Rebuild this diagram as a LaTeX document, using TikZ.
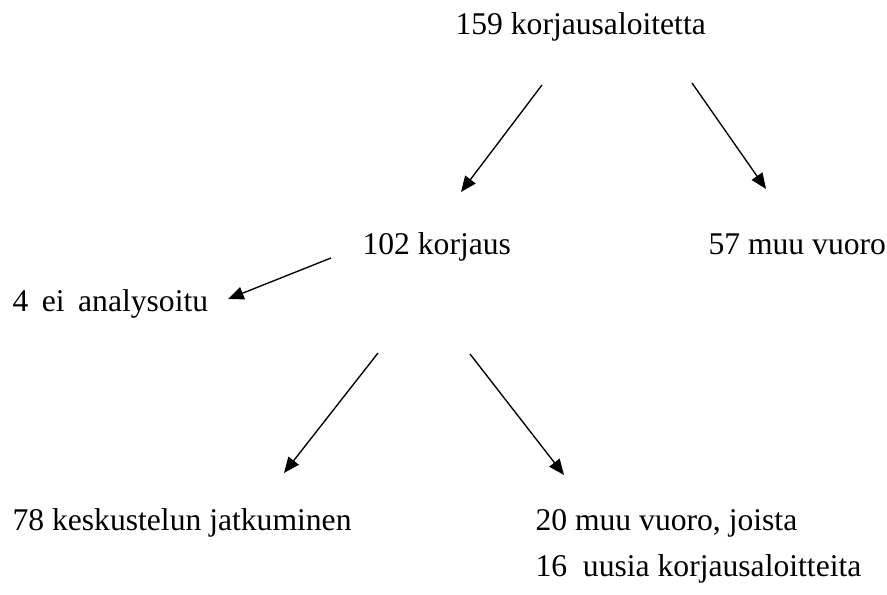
\documentclass[tikz,border=0pt]{standalone}
\usepackage{fontspec}
\setmainfont{Liberation Serif}
\usetikzlibrary{arrows.meta}
\begin{document}
\begin{tikzpicture}[x=0.37pt,y=-0.37pt]
% Tyylit
\tikzset{count label/.style={anchor=base west,inner sep=0pt,font=\fontsize{11.7}{14}\selectfont},
  flow arrow/.style={-{Triangle[length=5.8pt,width=4.8pt]},line width=.5pt}}
\useasboundingbox (0,0) rectangle (887,595);

  \node[count label] (aloite) at (455,35) {159 korjausaloitetta};
  \node[count label] (korjaus) at (362,255) {102 korjaus};
  \node[count label] (muu) at (708,255) {57 muu vuoro};
  \node[count label] (eian) at (12,312) {4\hspace{5pt}ei\hspace{5pt}analysoitu};
  \node[count label] (jatko) at (12,531) {78 keskustelun jatkuminen};
  \node[count label] (muu2) at (535,531) {20 muu vuoro, joista};
  \node[count label] (uusia) at (535,577) {16\ \ uusia korjausaloitteita};

% Nuolten päät
  \coordinate (a1) at (542,85); \coordinate (b1) at (461,192);
  \coordinate (a2) at (692,83); \coordinate (b2) at (766,189);
  \coordinate (a3) at (331,258); \coordinate (b3) at (228,299);
  \coordinate (a4) at (378,353); \coordinate (b4) at (284,473);
  \coordinate (a5) at (470,354); \coordinate (b5) at (564,475);

\draw[flow arrow] (a1) -- (b1);
\draw[flow arrow] (a2) -- (b2);
\draw[flow arrow] (a3) -- (b3);
\draw[flow arrow] (a4) -- (b4);
\draw[flow arrow] (a5) -- (b5);

\end{tikzpicture}
\end{document}
